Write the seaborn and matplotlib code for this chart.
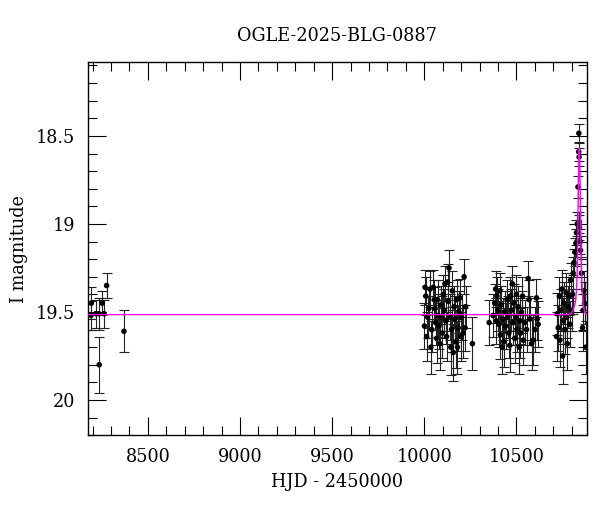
import numpy as np
import pandas as pd
import matplotlib
matplotlib.use("Agg")
import matplotlib.pyplot as plt
import seaborn as sns
from matplotlib.ticker import MultipleLocator, FuncFormatter

# ---------------------------------------------------------------
# Light curve data (HJD - 2450000, I magnitude, error)
# ---------------------------------------------------------------
early_t = [8191, 8193, 8217, 8234, 8252, 8262, 8276, 8236, 8370]
early_mag = [19.52, 19.45, 19.51, 19.51, 19.45, 19.51, 19.35, 19.80, 19.61]
early_err = [0.08, 0.09, 0.08, 0.09, 0.07, 0.08, 0.07, 0.16, 0.12]

c1_t = [10001, 10004, 10008, 10013, 10018, 10025, 10031, 10036, 10040, 10049,
        10054, 10058, 10061, 10067, 10072, 10076, 10080, 10085, 10090, 10094,
        10098, 10103, 10108, 10112, 10116, 10121, 10126, 10130, 10134, 10139,
        10144, 10148, 10152, 10157, 10162, 10166, 10170, 10175, 10180, 10184,
        10188, 10193, 10198, 10202, 10211, 10216, 10221, 10224, 10261]
c1_mag = [19.58, 19.36, 19.41, 19.64, 19.53, 19.48, 19.37, 19.70, 19.60, 19.36,
          19.43, 19.48, 19.56, 19.65, 19.43, 19.52, 19.58, 19.68, 19.46, 19.53,
          19.62, 19.40, 19.49, 19.34, 19.55, 19.64, 19.33, 19.44, 19.25, 19.53,
          19.70, 19.60, 19.38, 19.73, 19.47, 19.54, 19.67, 19.43, 19.70, 19.59,
          19.50, 19.42, 19.64, 19.53, 19.62, 19.30, 19.59, 19.47, 19.68]
c1_err = [0.13, 0.10, 0.11, 0.14, 0.12, 0.11, 0.10, 0.15, 0.13, 0.10,
          0.11, 0.12, 0.13, 0.14, 0.11, 0.12, 0.13, 0.15, 0.11, 0.12,
          0.14, 0.11, 0.12, 0.10, 0.13, 0.14, 0.10, 0.11, 0.10, 0.13,
          0.16, 0.13, 0.11, 0.16, 0.12, 0.13, 0.15, 0.11, 0.15, 0.13,
          0.12, 0.11, 0.14, 0.13, 0.14, 0.10, 0.13, 0.12, 0.15]

c2_t = [10352, 10373, 10382, 10387, 10391, 10394, 10400, 10405, 10410, 10413,
        10418, 10423, 10427, 10431, 10436, 10441, 10449, 10454, 10459, 10464,
        10467, 10473, 10478, 10482, 10486, 10491, 10496, 10500, 10504, 10509,
        10515, 10519, 10522, 10528, 10533, 10537, 10546, 10555, 10564, 10569,
        10573, 10582, 10591, 10600, 10609, 10613, 10618]
c2_mag = [19.56, 19.52, 19.45, 19.37, 19.55, 19.41, 19.49, 19.57, 19.38, 19.63,
          19.46, 19.70, 19.54, 19.67, 19.50, 19.58, 19.43, 19.53, 19.62, 19.69,
          19.41, 19.49, 19.34, 19.56, 19.45, 19.65, 19.53, 19.40, 19.60, 19.47,
          19.70, 19.55, 19.62, 19.50, 19.41, 19.66, 19.56, 19.60, 19.31, 19.43,
          19.54, 19.68, 19.66, 19.60, 19.42, 19.54, 19.57]
c2_err = [0.13, 0.12, 0.11, 0.10, 0.13, 0.11, 0.12, 0.13, 0.10, 0.14,
          0.11, 0.15, 0.12, 0.14, 0.12, 0.13, 0.11, 0.12, 0.14, 0.15,
          0.11, 0.12, 0.10, 0.13, 0.11, 0.14, 0.12, 0.11, 0.13, 0.12,
          0.15, 0.13, 0.14, 0.12, 0.11, 0.14, 0.13, 0.13, 0.10, 0.11,
          0.12, 0.15, 0.14, 0.13, 0.11, 0.12, 0.13]

c3_t = [10718, 10722, 10727, 10733, 10736, 10740, 10745, 10751, 10754, 10758,
        10763, 10769, 10772, 10776, 10781, 10787, 10790, 10794, 10799, 10805,
        10808, 10812, 10817, 10823, 10826, 10830, 10834, 10838, 10839, 10840,
        10841, 10842, 10846, 10848, 10853, 10859, 10862, 10866, 10870, 10876]
c3_mag = [19.64, 19.51, 19.59, 19.41, 19.66, 19.49, 19.37, 19.75, 19.55, 19.45,
          19.60, 19.39, 19.53, 19.68, 19.47, 19.41, 19.57, 19.32, 19.49, 19.40,
          19.28, 19.22, 19.16, 19.11, 19.05, 19.00, 18.79, 18.59, 18.485, 18.62,
          18.99, 19.02, 19.10, 19.15, 19.28, 19.59, 19.49, 19.38, 19.45, 19.70]
c3_err = [0.14, 0.12, 0.13, 0.11, 0.15, 0.12, 0.11, 0.16, 0.13, 0.12,
          0.14, 0.11, 0.12, 0.15, 0.12, 0.11, 0.13, 0.10, 0.12, 0.11,
          0.09, 0.08, 0.08, 0.08, 0.07, 0.07, 0.06, 0.05, 0.05, 0.05,
          0.06, 0.07, 0.07, 0.08, 0.09, 0.13, 0.12, 0.11, 0.12, 0.15]

# model curve
model_t = [8175, 10780, 10794, 10808, 10819, 10826, 10830, 10833, 10836, 10839,
           10841, 10843, 10846, 10849, 10853, 10858, 10862, 10870, 10882]
model_mag = [19.515, 19.515, 19.51, 19.49, 19.45, 19.38, 19.26, 19.08, 18.80, 18.62,
             18.57, 18.62, 18.80, 19.05, 19.28, 19.40, 19.45, 19.50, 19.515]

df = pd.DataFrame({
    'hjd': early_t + c1_t + c2_t + c3_t,
    'mag': early_mag + c1_mag + c2_mag + c3_mag,
    'err': early_err + c1_err + c2_err + c3_err,
})
model = pd.DataFrame({'hjd': model_t, 'mag': model_mag})

# ---------------------------------------------------------------
# Plot
# ---------------------------------------------------------------
sns.set_theme(style="ticks")
plt.rcParams['font.family'] = ['DejaVu Serif']
plt.rcParams['mathtext.fontset'] = 'dejavuserif'

fig = plt.figure(figsize=(6, 5.12), dpi=100)
ax = fig.add_axes([0.1467, 0.150, 0.8313, 0.729])

ax.errorbar(df['hjd'], df['mag'], yerr=df['err'], fmt='none', ecolor='#222222',
            elinewidth=0.8, capsize=3.5, capthick=0.8, zorder=2)
sns.scatterplot(data=df, x='hjd', y='mag', color='black', s=16,
                edgecolor='none', ax=ax, zorder=3)
sns.lineplot(data=model, x='hjd', y='mag', color='magenta', lw=1.0,
             estimator=None, sort=False, ax=ax, zorder=4)

ax.set_xlim(8175, 10882)
ax.set_ylim(20.2, 18.08)

ax.xaxis.set_major_locator(MultipleLocator(500))
ax.xaxis.set_minor_locator(MultipleLocator(100))
ax.yaxis.set_major_locator(MultipleLocator(0.5))
ax.yaxis.set_minor_locator(MultipleLocator(0.1))
fmt = FuncFormatter(lambda v, p: '%g' % v)
ax.xaxis.set_major_formatter(fmt)
ax.yaxis.set_major_formatter(fmt)

ax.tick_params(which='both', direction='in', top=True, right=True,
               color='black', width=0.8, labelsize=12.7, labelcolor='black')
ax.tick_params(which='major', length=13, pad=9)
ax.tick_params(which='minor', length=6.5)
for sp in ax.spines.values():
    sp.set_color('black')
    sp.set_linewidth(1.0)

ax.set_title("OGLE-2025-BLG-0887", fontsize=12.7, pad=15, color='black')
ax.set_xlabel("HJD - 2450000", fontsize=12.7, labelpad=5, color='black')
ax.set_ylabel("I magnitude", fontsize=12.7, labelpad=6, color='black')

fig.savefig("out.png", dpi=100)
